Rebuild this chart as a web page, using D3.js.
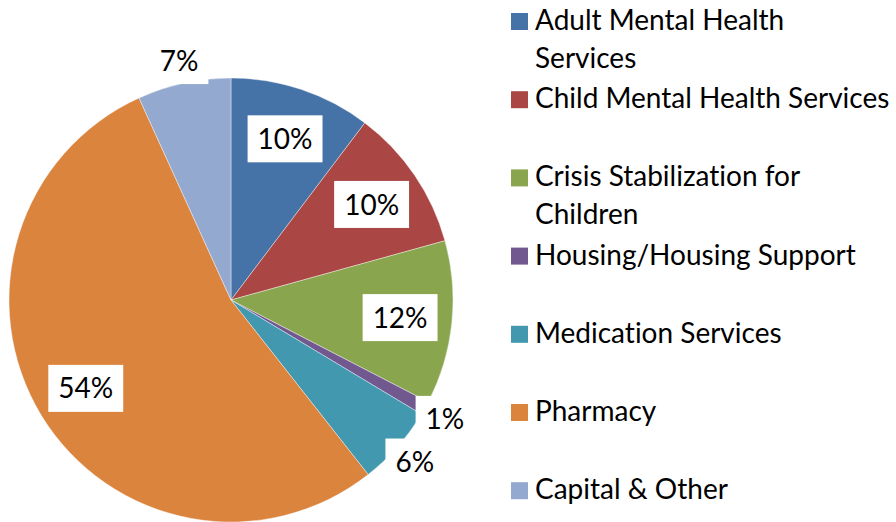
<!DOCTYPE html>
<html lang="en">
<head>
<meta charset="UTF-8">
<title>Spending by service</title>
<script src="https://d3js.org/d3.v7.min.js"></script>
<style>
  body { margin: 0; background: #fff; }
  text { font-family: Lato, "Noto Sans", sans-serif; fill: #000; font-variant-ligatures: none; }
</style>
</head>
<body>
<svg width="896" height="522"></svg>
<script>
  // data (percent of total)
  const categories = ["Adult Mental Health Services", "Child Mental Health Services",
    "Crisis Stabilization for Children", "Housing/Housing Support",
    "Medication Services", "Pharmacy", "Capital & Other"];
  const values = [10.3, 10.4, 11.9, 1.0, 5.8, 53.8, 6.8];
  const legendLines = [["Adult Mental Health", "Services"], ["Child Mental Health Services"],
    ["Crisis Stabilization for", "Children"], ["Housing/Housing Support"],
    ["Medication Services"], ["Pharmacy"], ["Capital & Other"]];
  const colors = ["#4572A7", "#AA4643", "#89A54E", "#71588F", "#4198AF", "#DB843D", "#93A9CF"];

  const svg = d3.select("svg");
  const cx = 231, cy = 300, R = 222;
  const fontSize = 28;

  const rows = categories.map((c, i) => ({ name: c, value: values[i], color: colors[i], lines: legendLines[i] }));

  const pie = d3.pie().sort(null).value(d => d.value);
  const arcs = pie(rows);
  const arc = d3.arc().innerRadius(0).outerRadius(R);

  const g = svg.append("g").attr("transform", `translate(${cx},${cy})`);
  g.selectAll("path.slice")
    .data(arcs)
    .enter().append("path")
    .attr("class", "slice")
    .attr("d", arc)
    .attr("fill", d => d.data.color)
    .attr("stroke", "#fff")
    .attr("stroke-width", 0.4);

  // labels: inside for big slices, outside for small ones
  const inArc = d3.arc().innerRadius(170).outerRadius(170);
  const outArc = d3.arc().innerRadius(245).outerRadius(245);

  const labels = g.selectAll("g.label")
    .data(arcs)
    .enter().append("g")
    .attr("class", "label")
    .attr("transform", d => {
      const p = (d.data.value < 8 ? outArc : inArc).centroid(d);
      return `translate(${p[0]},${p[1]})`;
    });

  labels.append("rect").attr("fill", "#fff");
  labels.append("text")
    .attr("text-anchor", "middle")
    .attr("dy", "0.36em")
    .style("font-size", fontSize + "px")
    .text(d => Math.round(d.data.value) + "%");

  labels.each(function() {
    const t = d3.select(this).select("text").node().getBBox();
    d3.select(this).select("rect")
      .attr("x", t.x - 10).attr("width", t.width + 20)
      .attr("y", -23.5).attr("height", 47);
  });

  // legend
  const legend = svg.append("g").attr("transform", "translate(511,13)");
  const items = legend.selectAll("g.item")
    .data(rows)
    .enter().append("g")
    .attr("class", "item")
    .attr("transform", (d, i) => `translate(0,${i * 78.2})`);

  items.append("rect")
    .attr("width", 17).attr("height", 17)
    .attr("fill", d => d.color);

  items.append("text")
    .attr("x", 24)
    .attr("y", 17)
    .style("font-size", fontSize + "px")
    .selectAll("tspan")
    .data(d => d.lines)
    .enter().append("tspan")
    .attr("x", 24)
    .attr("dy", (d, i) => i === 0 ? 0 : 38)
    .text(d => d);
</script>
</body>
</html>
